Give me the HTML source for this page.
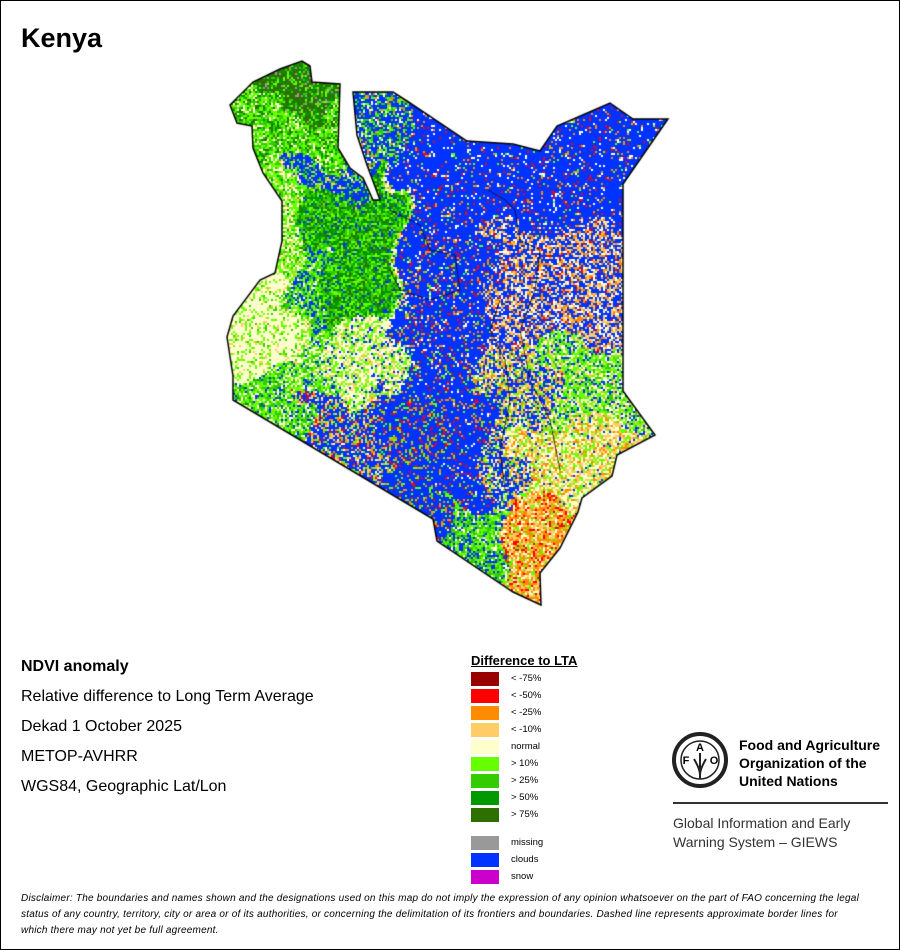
<!DOCTYPE html>
<html><head><meta charset="utf-8"><style>
body{margin:0;background:#fff}
#wrap{position:relative;width:898px;height:948px;border:1px solid #000;overflow:hidden;font-family:"Liberation Sans",sans-serif;color:#000;background:#fff}
.t{position:absolute;white-space:nowrap}
.sw{position:absolute;left:470px;width:28px;height:14px}
.lb{position:absolute;left:510px;font-size:9.5px}
.dl{position:absolute;left:20px;font-size:10px;font-style:italic;letter-spacing:0.22px;white-space:nowrap}
</style></head><body>
<div id="wrap">
<div class="t" style="left:20px;top:22px;font-size:27px;font-weight:bold">Kenya</div>
<canvas id="map" width="900" height="620" style="position:absolute;left:-1px;top:-1px"></canvas>

<div class="t" style="left:20px;top:657px;font-size:16px;font-weight:bold">NDVI anomaly</div>
<div class="t" style="left:20px;top:687px;font-size:16px">Relative difference to Long Term Average</div>
<div class="t" style="left:20px;top:717px;font-size:16px">Dekad 1 October 2025</div>
<div class="t" style="left:20px;top:747px;font-size:16px">METOP-AVHRR</div>
<div class="t" style="left:20px;top:777px;font-size:16px">WGS84, Geographic Lat/Lon</div>

<div class="t" style="left:470px;top:652px;font-size:13px;font-weight:bold;text-decoration:underline">Difference to LTA</div>
<div id="legend"></div>

<svg style="position:absolute;left:670px;top:730px" width="60" height="60" viewBox="0 0 60 60">
<circle cx="29" cy="29" r="26" fill="none" stroke="#222" stroke-width="4"/>
<circle cx="29" cy="29" r="19" fill="none" stroke="#222" stroke-width="1.5"/>
<text x="29" y="20" font-size="11" font-weight="bold" text-anchor="middle" font-family="Liberation Sans">A</text>
<text x="15" y="33" font-size="11" font-weight="bold" text-anchor="middle" font-family="Liberation Sans">F</text>
<text x="43" y="33" font-size="11" font-weight="bold" text-anchor="middle" font-family="Liberation Sans">O</text>
<path d="M29 22 V48 M23 28 Q29 38 29 44 M35 28 Q29 38 29 44" stroke="#222" stroke-width="2" fill="none"/>
</svg>
<div class="t" style="left:738px;top:735px;font-size:14px;font-weight:bold;line-height:18px">Food and Agriculture<br>Organization of the<br>United Nations</div>
<div style="position:absolute;left:672px;top:801px;width:215px;height:2px;background:#333"></div>
<div class="t" style="left:672px;top:813px;font-size:14px;color:#333;line-height:19px">Global Information and Early<br>Warning System – GIEWS</div>

<div class="dl" style="top:892px">Disclaimer: The boundaries and names shown and the designations used on this map do not imply the expression of any opinion whatsoever on the part of FAO concerning the legal</div>
<div class="dl" style="top:908px">status of any country, territory, city or area or of its authorities, or concerning the delimitation of its frontiers and boundaries. Dashed line represents approximate border lines for</div>
<div class="dl" style="top:924px">which there may not yet be full agreement.</div>
</div>
<script>
const legendLabels=["< -75%","< -50%","< -25%","< -10%","normal","> 10%","> 25%","> 50%","> 75%","missing","clouds","snow"];
const legendColors=["#990000","#ff0000","#ff8c00","#ffcc66","#ffffcc","#66ff00","#33cc00","#009900","#2d7000","#999999","#0033ff","#cc00cc"];
const legendTops=[671,688,705,722,739,756,773,790,807,835,852,869];
const lg=document.getElementById('legend');
legendLabels.forEach((l,i)=>{
 const s=document.createElement('div');s.className='sw';s.style.top=legendTops[i]+'px';s.style.background=legendColors[i];
 
 
 lg.appendChild(s);
 const t=document.createElement('div');t.className='lb';t.style.top=(legendTops[i]+1)+'px';t.textContent=l;
 
 
 lg.appendChild(t);
});
const outline=[[230,105],[253,82],[280,69],[302,61],[310,66],[312,82],[340,84],[338,148],[350,168],[363,178],[373,200],[380,200],[367,165],[357,135],[353,92],[393,92],[407,101],[467,141],[513,144],[540,151],[557,126],[610,103],[633,119],[668,119],[623,184],[623,391],[655,435],[617,455],[612,476],[582,498],[578,512],[560,548],[540,573],[541,605],[513,592],[437,541],[433,519],[233,400],[233,376],[227,337],[233,316],[260,280],[275,273],[282,241],[282,201],[263,173],[253,148],[252,126],[237,123]];
const c=document.getElementById('map').getContext('2d');
let seed=12345;function rnd(){seed=(seed*1103515245+12345)&0x7fffffff;return seed/0x7fffffff;}
function path(){c.beginPath();outline.forEach((p,i)=>i?c.lineTo(p[0],p[1]):c.moveTo(p[0],p[1]));c.closePath();}
const B="#0033ff",N="#ffffcc",G1="#66ff00",G2="#33cc00",G3="#009900",G4="#2d7000",O1="#ffcc66",O2="#ff8c00",R="#ff0000",W="#ffffff";
function pal(x,y){
 if(y<112&&x>265&&x<330)return [[G4,.5],[G3,.2],[G2,.1],[G1,.12],["#999",.08]];
 if(x<345&&y<160)return [[G1,.35],[G2,.25],[G3,.15],[N,.15],[G4,.1]];
 if(x>=345&&x<410&&y<175)return [[B,.55],[G1,.15],[G2,.15],[N,.1],[O2,.05]];
 if(y>=160&&y<190&&x>285&&x<380)return [[B,.65],[G1,.15],[G2,.1],[O1,.1]];
 if(x<295&&y>=270&&y<375)return [[N,.7],[G1,.18],[O1,.06],[G2,.06]];
 if(x<300&&y>=375)return [[G1,.35],[G2,.3],[N,.2],[B,.1],[G3,.05]];
 if(x<300)return [[G1,.35],[N,.3],[G2,.2],[O1,.1],[G3,.05]];
 if(x<395&&y<320)return (x<320&&y>260)?[[B,.3],[G1,.3],[G2,.3],[N,.1]]:[[G3,.28],[G2,.28],[G1,.22],[G4,.14],[B,.08]];
 if(x<400&&y<395)return (x<330)?[[G1,.35],[N,.3],[G2,.25],[B,.1]]:[[N,.45],[G1,.3],[O1,.15],[B,.1]];
 if(y>505&&x<505&&x>440)return [[G2,.35],[G1,.3],[B,.25],[N,.1]];
 if(x<445&&y>=395)return (x<385)?[[B,.55],[O1,.15],[O2,.1],[G1,.1],[R,.05],[N,.05]]:[[B,.75],[O2,.1],[G1,.1],[R,.05]];
 if(y<230)return [[B,.85],[O2,.05],[W,.05],[R,.03],[G1,.02]];
 if(x<485)return [[B,.8],[O2,.08],[R,.04],[W,.04],[G1,.04]];
 if(y<340)return [[B,.45],[O1,.2],[O2,.15],[W,.12],[R,.03],[N,.05]];
 if(y<420&&x>550)return [[G1,.35],[N,.25],[G2,.15],[O1,.1],[B,.15]];
 if(y<420)return [[B,.35],[O1,.2],[O2,.15],[N,.15],[G1,.15]];
 if(y>500&&x>495)return [[O2,.35],[O1,.25],[R,.15],[N,.15],[G1,.1]];
 if(x<520)return [[B,.45],[O1,.15],[O2,.1],[G1,.15],[N,.15]];
 return [[N,.35],[O1,.25],[O2,.15],[G1,.2],[B,.05]];
}
c.save();path();c.clip();
const s=2;
for(let y=55;y<610;y+=s)for(let x=225;x<672;x+=s){
 const dx=10*Math.sin(y/13+x/29)+6*Math.sin(x/9+y/21)+(rnd()-.5)*6;
 const dy=10*Math.sin(x/15-y/33)+6*Math.cos(y/8+x/17)+(rnd()-.5)*6;
 const p=pal(x+dx,y+dy);let r=rnd(),col=p[0][0];
 for(const [k,w] of p){if(r<w){col=k;break;}r-=w;}
 c.fillStyle=col;c.fillRect(x,y,s,s);
}
c.restore();
c.fillStyle="#fff";c.beginPath();
[[340,84],[353,92],[357,135],[367,165],[380,200],[373,200],[363,178],[350,168],[338,148]].forEach((p,i)=>i?c.lineTo(p[0],p[1]):c.moveTo(p[0],p[1]));
c.closePath();c.fill();
c.strokeStyle="#000";c.lineWidth=1.5;path();c.stroke();
c.lineWidth=0.7;
[[[390,210],[420,225],[430,250],[455,255],[460,290],[430,300],[400,290],[390,270]],[[488,190],[505,200],[515,210],[520,240],[540,250],[535,290],[520,330],[530,380],[550,420],[560,470]],[[500,300],[490,330],[505,360],[510,400],[500,450],[505,490]]].forEach(l=>{c.beginPath();l.forEach((p,i)=>i?c.lineTo(p[0],p[1]):c.moveTo(p[0],p[1]));c.stroke();});
</script>
</body></html>
